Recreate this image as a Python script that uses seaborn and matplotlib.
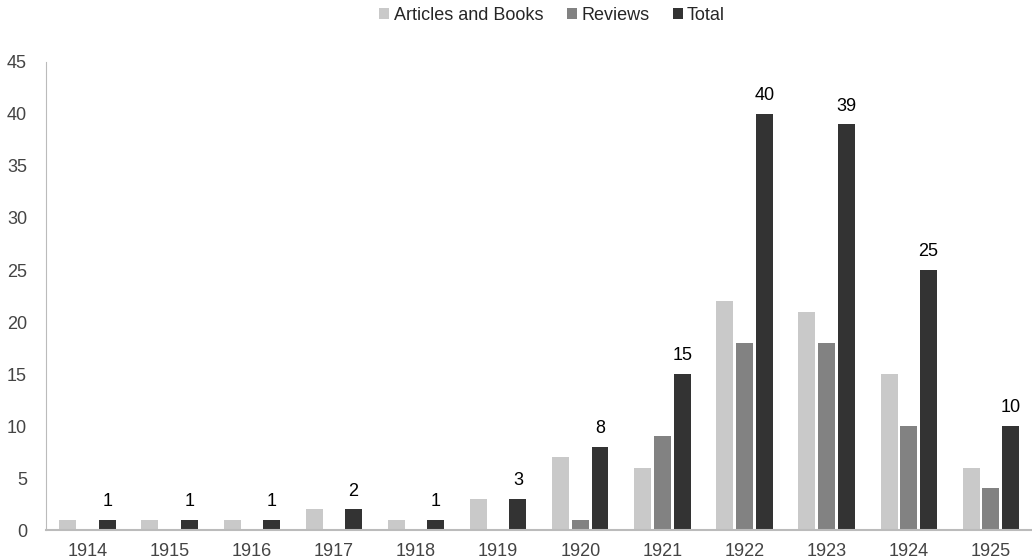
import pandas as pd
import numpy as np
import matplotlib
matplotlib.use('Agg')
import matplotlib.pyplot as plt
import seaborn as sns

# Dados
anos = ['1914', '1915', '1916', '1917', '1918', '1919', '1920', '1921', '1922', '1923', '1924', '1925']
artigos = [1, 1, 1, 2, 1, 3, 7, 6, 22, 21, 15, 6]
resenhas = [0, 0, 0, 0, 0, 0, 1, 9, 18, 18, 10, 4]
total = [1, 1, 1, 2, 1, 3, 8, 15, 40, 39, 25, 10]
series = ['Articles and Books', 'Reviews', 'Total']
cores = ['#c9c9c9', '#828282', '#333333']

df = pd.DataFrame({'ano': anos * 3,
                   'valor': artigos + resenhas + total,
                   'serie': [series[0]] * 12 + [series[1]] * 12 + [series[2]] * 12})

sns.set_style('white')
plt.rcParams['font.family'] = ['Liberation Sans', 'DejaVu Sans']

fig = plt.figure(figsize=(10.32, 5.58), dpi=100)
ax = fig.add_axes([0.045, 0.05, 0.955, 0.839])

sns.barplot(data=df, x='ano', y='valor', hue='serie', palette=cores,
            width=0.72, gap=0.14, ax=ax, edgecolor='none')

# rótulos só no total
for bar_cont, nome in zip(ax.containers, series):
    if nome == 'Total':
        ax.bar_label(bar_cont, labels=[str(v) for v in total], padding=7,
                     fontsize=13, color='black')

ax.set_ylim(0, 45)
ax.set_yticks(range(0, 46, 5))
ax.set_xlim(-0.5, 11.5)
ax.set_xlabel('')
ax.set_ylabel('')
ax.tick_params(axis='both', labelsize=13, length=0)
ax.tick_params(axis='x', pad=9)
ax.tick_params(axis='y', pad=14)
for lbl in ax.get_xticklabels() + ax.get_yticklabels():
    lbl.set_color('#444444')
sns.despine(ax=ax, top=True, right=True)
ax.spines['left'].set_color('#bbbbbb')
ax.spines['bottom'].set_color('#bbbbbb')
ax.spines['bottom'].set_linewidth(1.5)

handles, labels = ax.get_legend_handles_labels()
ax.legend_.remove()
fig.legend(handles, labels, loc='center', bbox_to_anchor=(0.535, 0.972), ncol=3,
           frameon=False, fontsize=13, handlelength=0.55, handleheight=0.55,
           handletextpad=0.25, columnspacing=1.3)

plt.savefig('out.png', dpi=100)
